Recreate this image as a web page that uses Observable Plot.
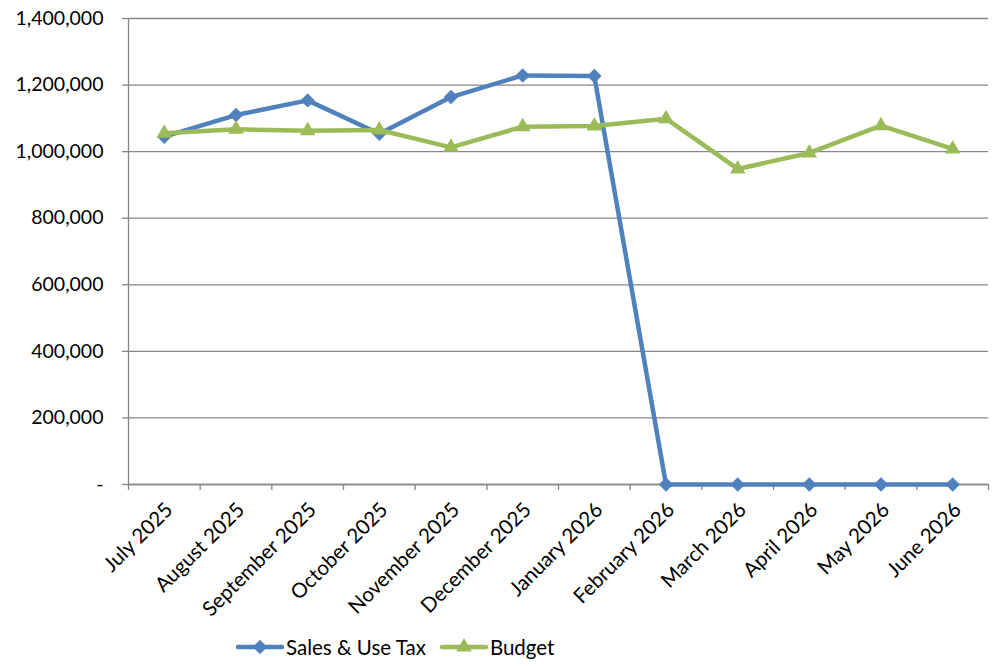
<!DOCTYPE html>
<html>
<head>
<meta charset="utf-8">
<script src="https://cdn.jsdelivr.net/npm/d3@7"></script>
<script src="https://cdn.jsdelivr.net/npm/@observablehq/plot@0.6"></script>
<style>
  html, body { margin: 0; padding: 0; background: #fff; }
  body { width: 994px; height: 666px; position: relative; font-family: Lato, "Open Sans", sans-serif; }
  #legend { position: absolute; left: 236px; top: 632px; height: 30px; display: flex; align-items: center; font-size: 20.5px; color: #000; }
  #legend .item { display: flex; align-items: center; margin-right: 14px; }
  #legend svg { margin-right: 2px; }
</style>
</head>
<body>
<div id="chart"></div>
<div id="legend"></div>
<script>
const months = ["July 2025","August 2025","September 2025","October 2025","November 2025","December 2025","January 2026","February 2026","March 2026","April 2026","May 2026","June 2026"];
const salesTax = [1045000, 1110000, 1154000, 1054000, 1164000, 1229000, 1227000, 0, 0, 0, 0, 0];
const budget = [1055000, 1067000, 1063000, 1065000, 1013000, 1075000, 1077000, 1099000, 948000, 996000, 1078000, 1008000];
const yTicks = [0, 200000, 400000, 600000, 800000, 1000000, 1200000, 1400000];
const seriesNames = ["Sales & Use Tax", "Budget"];
const seriesColors = ["#4F81BD", "#9BBB59"];

const salesData = months.map((m, i) => ({i, month: m, value: salesTax[i]}));
const budgetData = months.map((m, i) => ({i, month: m, value: budget[i]}));
const boundaries = d3.range(months.length + 1).map(k => k - 0.5);

const fmt = d3.format(",");
const chart = Plot.plot({
  width: 994,
  height: 625,
  marginLeft: 128,
  marginRight: 6,
  marginTop: 18,
  marginBottom: 141,
  style: {fontFamily: "Lato, 'Open Sans', sans-serif", fontSize: "19.5px", color: "#000", background: "#fff"},
  x: {domain: [-0.5, months.length - 0.5]},
  y: {domain: [0, 1400000]},
  marks: [
    Plot.gridY(yTicks, {stroke: "#868686", strokeOpacity: 1, strokeWidth: 1.3}),
    Plot.axisY(yTicks, {tickSize: 6, tickPadding: 19, stroke: "#868686", strokeWidth: 1.3, tickFormat: d => d === 0 ? "-" : fmt(d), fill: "#000", label: null}),
    Plot.ruleX([-0.5], {stroke: "#868686", strokeWidth: 1.3}),
    Plot.ruleY([0], {stroke: "#868686", strokeWidth: 1.3}),
    Plot.axisX(boundaries, {tickSize: 6, stroke: "#868686", strokeWidth: 1.3, tickFormat: () => "", label: null}),
    Plot.axisX(d3.range(months.length), {tickSize: 0, tickPadding: 22, dx: 5, tickRotate: -45, fontSize: 20.5, tickFormat: i => months[i], fill: "#000", label: null}),
    Plot.line(salesData, {x: "i", y: "value", stroke: seriesColors[0], strokeWidth: 4.5, strokeLinejoin: "round", strokeLinecap: "round"}),
    Plot.dot(salesData, {x: "i", y: "value", symbol: "diamond2", r: 6.5, fill: seriesColors[0], stroke: "none"}),
    Plot.line(budgetData, {x: "i", y: "value", stroke: seriesColors[1], strokeWidth: 4.5, strokeLinejoin: "round", strokeLinecap: "round"}),
    Plot.dot(budgetData, {x: "i", y: "value", symbol: "triangle", r: 5.8, fill: seriesColors[1], stroke: "none"})
  ]
});
document.getElementById("chart").appendChild(chart);

// Legend
const legend = d3.select("#legend");
const symbols = [d3.symbolDiamond2, d3.symbolTriangle];
const sizes = [Math.PI * 6.5 * 6.5, Math.PI * 5.8 * 5.8];
seriesNames.forEach((name, k) => {
  const item = legend.append("div").attr("class", "item");
  const s = item.append("svg").attr("width", 48).attr("height", 20);
  s.append("line").attr("x1", 2).attr("x2", 46).attr("y1", 10).attr("y2", 10)
    .attr("stroke", seriesColors[k]).attr("stroke-width", 4.5).attr("stroke-linecap", "round");
  s.append("path").attr("transform", "translate(24,10)")
    .attr("d", d3.symbol(symbols[k], sizes[k])()).attr("fill", seriesColors[k]);
  item.append("span").text(name);
});
</script>
</body>
</html>
